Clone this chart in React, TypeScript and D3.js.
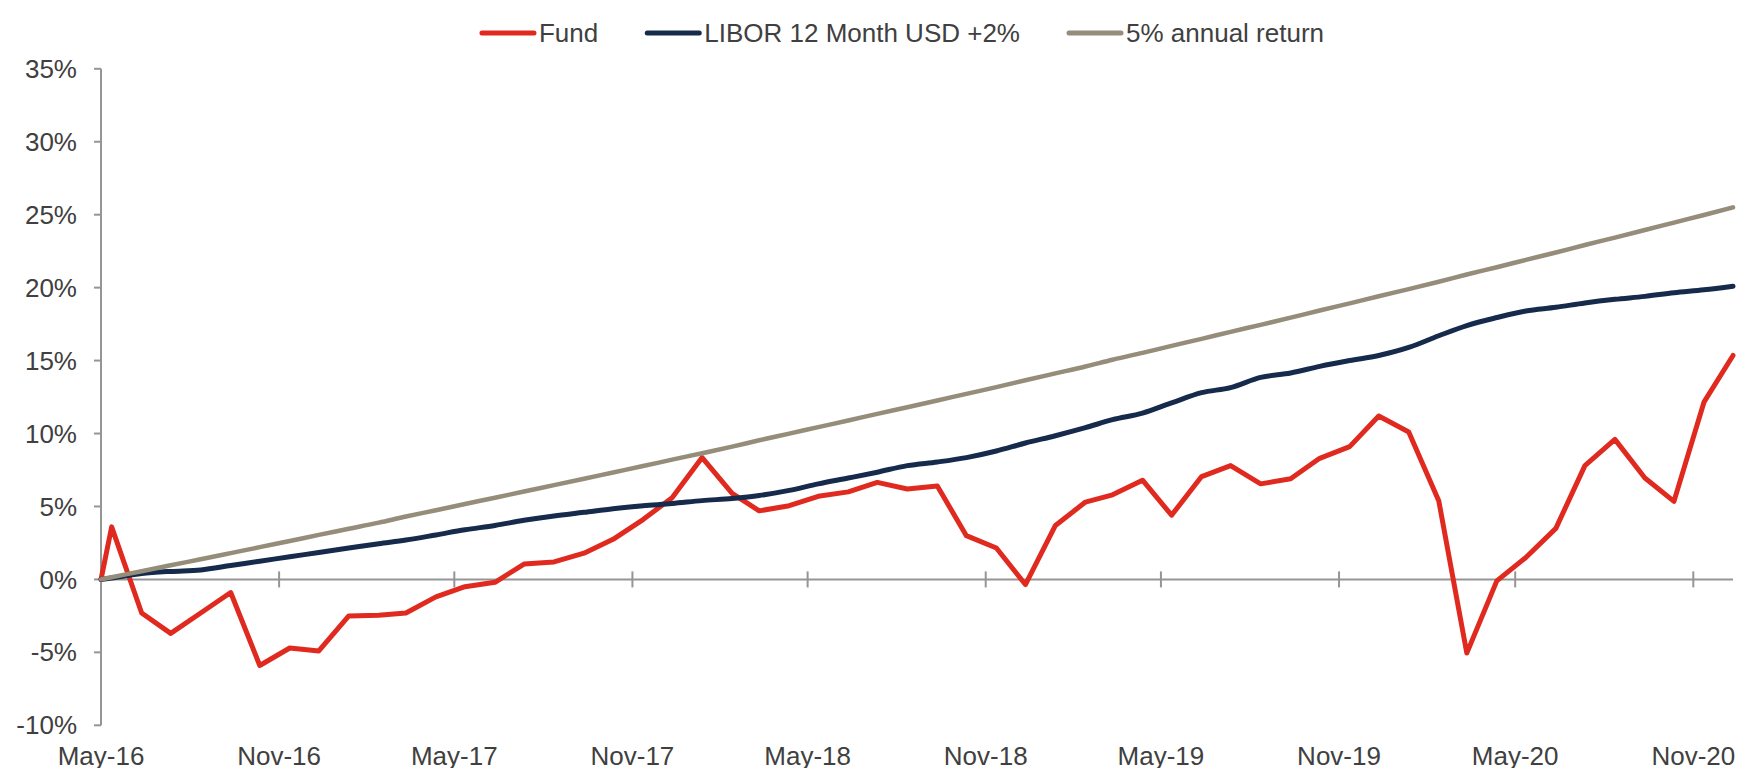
import React, { useEffect, useRef } from 'react';
import * as d3 from 'd3';

// Cumulative returns (%), first value is the inception point, then one value per month
const fundValues = [
  0, 3.6, -2.3, -3.7, -2.3, -0.9, -5.9, -4.7, -4.9, -2.5, -2.45, -2.3, -1.2, -0.5, -0.2,
  1.05, 1.2, 1.8, 2.75, 4.1, 5.6, 8.35, 5.9, 4.7, 5.05, 5.7, 6.0, 6.65, 6.2, 6.4,
  3.0, 2.15, -0.35, 3.7, 5.3, 5.8, 6.8, 4.4, 7.05, 7.8, 6.55, 6.9, 8.3, 9.1, 11.2,
  10.1, 5.4, -5.05, -0.1, 1.5, 3.5, 7.8, 9.6, 6.95, 5.35, 12.15, 15.35,
];
const liborValues = [
  0, 0.1, 0.4, 0.55, 0.65, 0.95, 1.25, 1.55, 1.85, 2.15, 2.45, 2.7, 3.05, 3.4, 3.7,
  4.05, 4.35, 4.6, 4.85, 5.05, 5.2, 5.4, 5.55, 5.75, 6.1, 6.55, 6.95, 7.35, 7.8, 8.05,
  8.35, 8.8, 9.35, 9.85, 10.4, 10.95, 11.4, 12.1, 12.8, 13.15, 13.85, 14.15, 14.6, 15.0,
  15.35, 15.9, 16.7, 17.4, 17.95, 18.4, 18.65, 18.95, 19.2, 19.4, 19.65, 19.85, 20.1,
];
const annualValues = [
  0, 0.15, 0.56, 0.97, 1.38, 1.8, 2.21, 2.63, 3.05, 3.47, 3.89, 4.31, 4.74, 5.17, 5.6,
  6.03, 6.46, 6.9, 7.33, 7.77, 8.21, 8.65, 9.1, 9.54, 9.99, 10.44, 10.89, 11.35, 11.8, 12.26,
  12.72, 13.18, 13.65, 14.12, 14.59, 15.06, 15.53, 16.01, 16.49, 16.97, 17.45, 17.94, 18.43,
  18.92, 19.41, 19.9, 20.4, 20.9, 21.4, 21.9, 22.41, 22.92, 23.43, 23.95, 24.46, 24.98, 25.5,
];

const seriesNames = ['Fund', 'LIBOR 12 Month USD +2%', '5% annual return'];
const seriesColors = ['#E02A1F', '#162A4B', '#958C79'];
const xTickLabels = ['May-16', 'Nov-16', 'May-17', 'Nov-17', 'May-18', 'Nov-18', 'May-19', 'Nov-19', 'May-20', 'Nov-20'];
const yTicks = [-10, -5, 0, 5, 10, 15, 20, 25, 30, 35];

const FONT = '"Liberation Sans", Arial, sans-serif';
const TEXT = '#404040';
const AXIS = '#959595';

export default function App() {
  const ref = useRef<SVGSVGElement>(null);

  useEffect(() => {
    if (!ref.current) return;
    const svg = d3.select(ref.current);
    svg.selectAll('*').remove();

    const parse = d3.timeParse('%b-%y');
    const start = new Date(2016, 4, 1);
    // inception, then monthly observations
    const dates = [start, ...d3.range(fundValues.length - 1).map(k => d3.timeMonth.offset(new Date(2016, 4, 12), k))];

    const x = d3.scaleTime().domain([start, dates[dates.length - 1]]).range([101, 1733]);
    const y = d3.scaleLinear().domain([-10, 35]).range([725.3, 68.8]);

    // y axis
    svg.append('line')
      .attr('x1', x(start)).attr('x2', x(start))
      .attr('y1', y(35)).attr('y2', y(-10))
      .attr('stroke', AXIS).attr('stroke-width', 2);

    const yt = svg.append('g').selectAll('g').data(yTicks).enter().append('g');
    yt.append('line')
      .attr('x1', x(start) - 7).attr('x2', x(start))
      .attr('y1', d => y(d)).attr('y2', d => y(d))
      .attr('stroke', AXIS).attr('stroke-width', 2);
    yt.append('text')
      .attr('x', 77).attr('y', d => y(d)).attr('dy', '0.35em')
      .attr('text-anchor', 'end')
      .attr('font-family', FONT).attr('font-size', 26).attr('fill', TEXT)
      .text(d => `${d}%`);

    // x axis on the zero line
    svg.append('line')
      .attr('x1', x(start)).attr('x2', x.range()[1])
      .attr('y1', y(0)).attr('y2', y(0))
      .attr('stroke', AXIS).attr('stroke-width', 2);

    const tickDates = xTickLabels.map(l => parse(l) as Date);
    svg.append('g').selectAll('line').data(tickDates.slice(1)).enter().append('line')
      .attr('x1', d => x(d)).attr('x2', d => x(d))
      .attr('y1', y(0) - 8).attr('y2', y(0) + 8)
      .attr('stroke', AXIS).attr('stroke-width', 2);

    svg.append('g').selectAll('text').data(xTickLabels).enter().append('text')
      .attr('x', (d, i) => x(tickDates[i]))
      .attr('y', 765)
      .attr('text-anchor', 'middle')
      .attr('font-family', FONT).attr('font-size', 26).attr('fill', TEXT)
      .text(d => d);

    // series lines (benchmarks drawn smoothed, fund as straight segments)
    const allSeries = [fundValues, liborValues, annualValues];
    const widths = [5, 5, 4.5];
    const curves = [d3.curveLinear, d3.curveMonotoneX, d3.curveMonotoneX];

    allSeries.forEach((vals, i) => {
      const line = d3.line<number>()
        .x((d, j) => x(dates[j]))
        .y(d => y(d))
        .curve(curves[i]);
      svg.append('path')
        .datum(vals)
        .attr('d', line)
        .attr('fill', 'none')
        .attr('stroke', seriesColors[i])
        .attr('stroke-width', widths[i])
        .attr('stroke-linejoin', 'round')
        .attr('stroke-linecap', 'round');
    });

    // legend
    const legend = svg.append('g');
    let cursor = 0;
    seriesNames.forEach((name, i) => {
      const g = legend.append('g').attr('transform', `translate(${cursor},0)`);
      g.append('line')
        .attr('x1', 2).attr('x2', 54)
        .attr('y1', 33).attr('y2', 33)
        .attr('stroke', seriesColors[i]).attr('stroke-width', 5)
        .attr('stroke-linecap', 'round');
      const t = g.append('text')
        .attr('x', 59).attr('y', 33).attr('dy', '0.35em')
        .attr('font-family', FONT).attr('font-size', 26).attr('fill', TEXT)
        .text(name);
      const w = (t.node() as SVGTextElement).getComputedTextLength();
      cursor += 59 + w + 47;
    });
    const total = cursor - 47;
    legend.attr('transform', `translate(${902 - total / 2},0)`);
  }, []);

  return (
    <svg
      ref={ref}
      width={1741}
      height={768}
      style={{ position: 'absolute', left: 0, top: 0, background: '#fff' }}
    />
  );
}
